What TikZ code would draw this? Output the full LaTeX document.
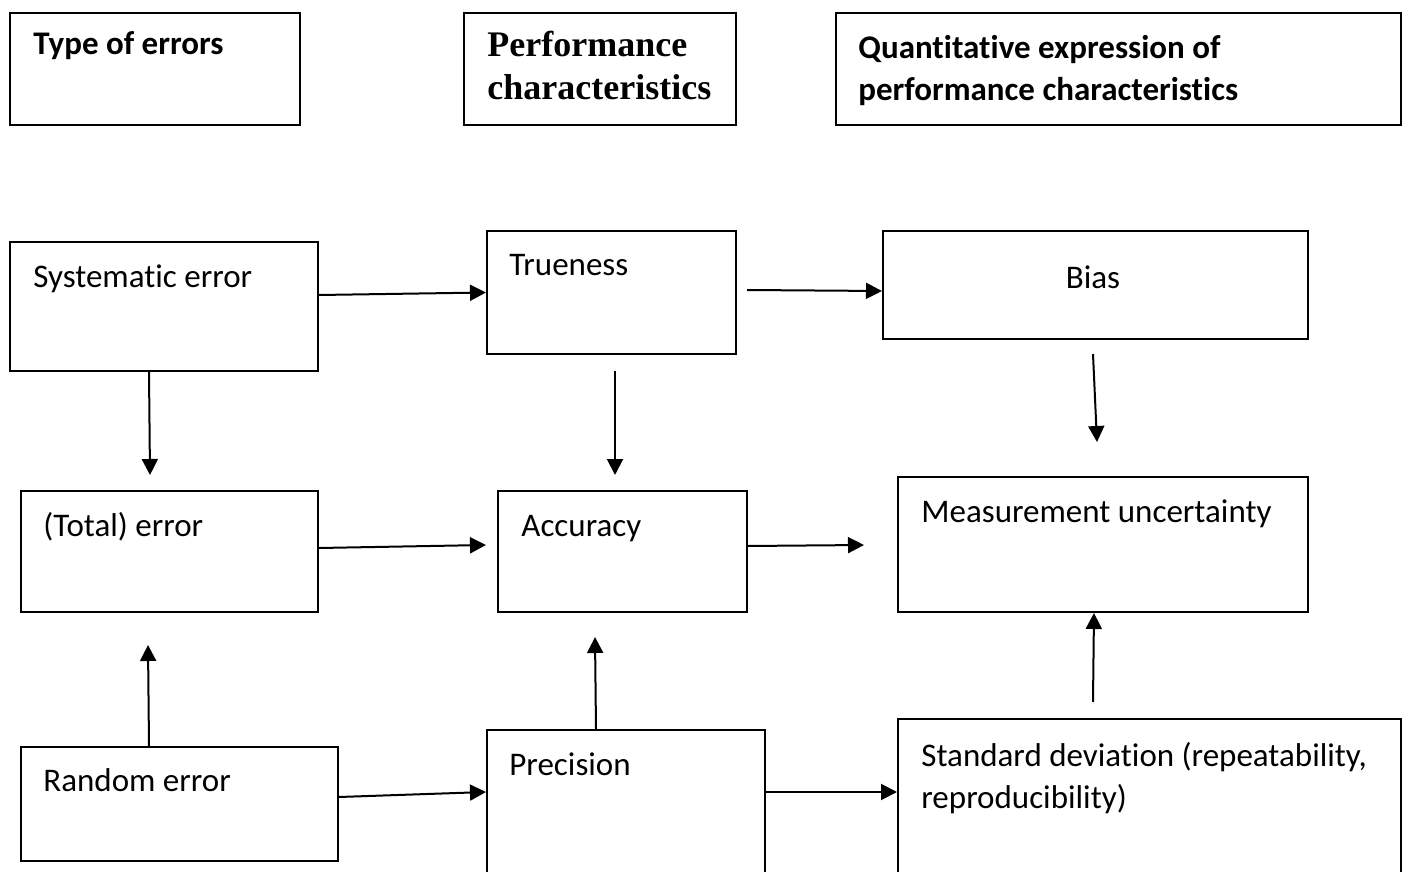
\documentclass[tikz,border=0pt]{standalone}
\usepackage{fontspec}
\setmainfont{Carlito}[Ligatures=NoCommon]
\newfontfamily\serifhead{Liberation Serif}
\usetikzlibrary{arrows.meta}
\tikzset{
  box/.style={draw,line width=1pt,rectangle,inner sep=0pt,anchor=north west},
  txt/.style={inner sep=0pt,anchor=base west,align=left,font=\fontsize{16.5}{21}\selectfont},
  head/.style={txt,font=\fontsize{16.5}{21}\selectfont\bfseries},
  arr/.style={-{Triangle[length=8pt,width=8pt]},line width=1pt}
}

\begin{document}
\begin{tikzpicture}[x={(0.5pt,0pt)},y={(0pt,-0.5pt)}]
\useasboundingbox (0,0) rectangle (1405,872);

% header row
\node[box,minimum width=145pt,minimum height=56pt] (htype) at (9,12) {};
\node[box,minimum width=136pt,minimum height=56pt] (hperf) at (463,12) {};
\node[box,minimum width=282.5pt,minimum height=56pt] (hquant) at (835,12) {};
% two-line texts sit on the baseline of their last line
\node[head] (htypeT) at (33,55) {Type of errors};
\node[head,font=\fontsize{18}{21.5}\selectfont\serifhead\bfseries] (hperfT) at (487,100) {Performance\\characteristics};
\node[head,font=\fontsize{16.5}{21}\selectfont\bfseries] (hquantT) at (858,101) {Quantitative expression of\\performance characteristics};

% boxes
\node[box,minimum width=154pt,minimum height=64.5pt] (sys) at (9,241) {};
\node[box,minimum width=124.5pt,minimum height=61.5pt] (true) at (486,230) {};
\node[box,minimum width=212.5pt,minimum height=54pt] (bias) at (882,230) {};
\node[box,minimum width=148.5pt,minimum height=60.5pt] (tot) at (20,490) {};
\node[box,minimum width=124.5pt,minimum height=60.5pt] (acc) at (497,490) {};
\node[box,minimum width=205pt,minimum height=67.5pt] (mu) at (897,476) {};
\node[box,minimum width=158.5pt,minimum height=57pt] (ran) at (20,746) {};
\node[box,minimum width=139pt,minimum height=85.5pt] (prec) at (486,729) {};
\node[box,minimum width=251.5pt,minimum height=91pt] (sd) at (897,718) {};

% texts
\node[txt] (sysT) at (33,287) {Systematic error};
\node[txt] (trueT) at (509,276) {Trueness};
\node[txt,anchor=base] (biasT) at (1093,289) {Bias};
\node[txt] (totT) at (43,536) {(Total) error};
\node[txt] (accT) at (521,536) {Accuracy};
\node[txt] (muT) at (921,522) {Measurement uncertainty};
\node[txt] (ranT) at (43,791) {Random error};
\node[txt] (precT) at (509,775) {Precision};
\node[txt] (sdT) at (921,808) {Standard deviation (repeatability,\\reproducibility)};

% loose arrow ends
\coordinate (trueR) at (747,290);
\coordinate (biasD1) at (1093,354);
\coordinate (biasD2) at (1097,442);
\coordinate (sysD) at (150,475);
\coordinate (trueD1) at (615,371);
\coordinate (trueD2) at (615,475);
\coordinate (totR) at (486,545);
\coordinate (accR) at (864,545);
\coordinate (ranU) at (148,645);
\coordinate (precU) at (595,637);
\coordinate (sdU) at (1093,702);

% arrows
\draw[arr] ([yshift=5.75pt]sys.east) -- (true.west);
\draw[arr] (trueR) -- ([yshift=-3pt]bias.west);
\draw[arr] (biasD1) -- (biasD2);
\draw[arr] ([xshift=-7.5pt]sys.south) -- (sysD);
\draw[arr] (trueD1) -- (trueD2);
\draw[arr] ([yshift=1.75pt]tot.east) -- (totR);
\draw[arr] ([yshift=2.75pt]acc.east) -- (accR);
\draw[arr] ([xshift=-15.25pt]ran.north) -- (ranU);
\draw[arr] ([xshift=-15pt]prec.north) -- (precU);
\draw[arr] ([yshift=3.5pt]ran.east) -- ([yshift=11.75pt]prec.west);
\draw[arr] ([yshift=11.75pt]prec.east) -- ([yshift=9pt]sd.west);
\draw[arr] (sdU) -- ([xshift=-4.5pt]mu.south);
\end{tikzpicture}
\end{document}
